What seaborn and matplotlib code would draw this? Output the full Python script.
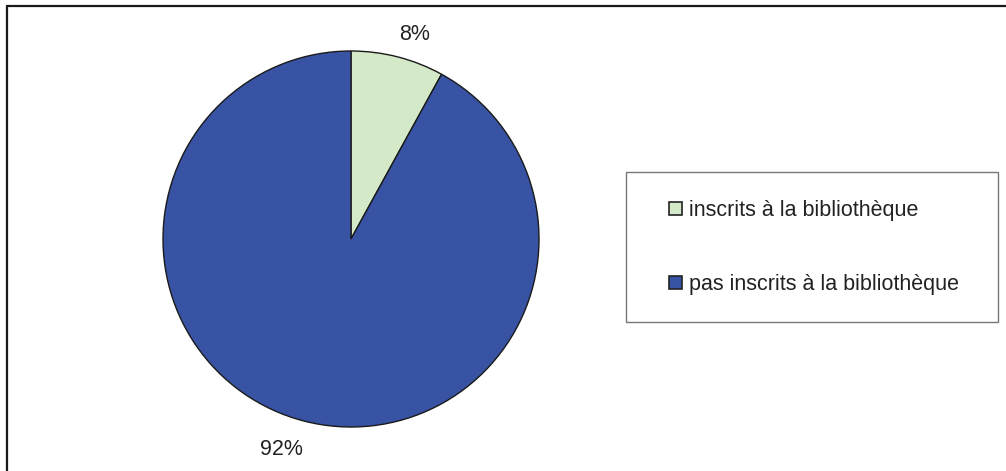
import matplotlib
matplotlib.use("Agg")
import numpy as np
import matplotlib.pyplot as plt
import seaborn as sns
from matplotlib.patches import Rectangle
from matplotlib.legend_handler import HandlerPatch
from matplotlib.lines import Line2D

sns.set_theme(style="white")
plt.rcParams['font.family'] = ['Liberation Sans', 'DejaVu Sans']

categories = ["inscrits à la bibliothèque", "pas inscrits à la bibliothèque"]
values = [8, 92]
colors = ["#D3E9C8", "#3953A4"]

W, H = 1006, 471
FS = 15.5
fig = plt.figure(figsize=(W / 100, H / 100), dpi=100)
fig.patch.set_facecolor("white")

cx, cy, r = 351, 239, 188
ax = fig.add_axes([(cx - r) / W, (H - cy - r) / H, 2 * r / W, 2 * r / H])
ax.axis("off")

wedges, texts, autotexts = ax.pie(
    values, colors=colors, startangle=90, counterclock=False, radius=1,
    autopct=lambda p: f"{p:.0f}%", pctdistance=1.15,
    wedgeprops=dict(edgecolor="#1a1a1a", linewidth=1.0),
    textprops=dict(fontsize=FS, color="#222222"))
ax.set_xlim(-1, 1)
ax.set_ylim(-1, 1)

# place percentage labels outside, aligned like the original
for w, t in zip(wedges, autotexts):
    mid = np.deg2rad((w.theta1 + w.theta2) / 2)
    x, y = np.cos(mid), np.sin(mid)
    t.set_position((x * 1.02, y * 1.14 - 0.016))
    t.set_ha("left" if x > 0 else "right")
    t.set_va("center")


class OffsetSquare(HandlerPatch):
    def create_artists(self, legend, orig_handle, xdescent, ydescent,
                       width, height, fontsize, trans):
        s = 13 * 72 / 100
        p = Rectangle((width - s - xdescent, -ydescent + (height - s) / 2 - 0.5),
                      s, s, facecolor=orig_handle.get_facecolor(),
                      edgecolor="#222222", linewidth=1.2, transform=trans)
        return [p]


leg = fig.legend(
    wedges, categories, loc="upper left",
    bbox_to_anchor=(626 / W, 1 - 322 / H, 372 / W, 150 / H),
    mode="expand", fontsize=FS, frameon=True, fancybox=False,
    borderpad=1.28, labelspacing=2.46, handlelength=1.31, handleheight=0.7,
    handletextpad=0.35, borderaxespad=0,
    handler_map={w: OffsetSquare() for w in wedges})
fr = leg.get_frame()
fr.set_edgecolor("#555555")
fr.set_linewidth(1.0)
for t in leg.get_texts():
    t.set_color("#222222")

# chart area border (left and top visible)
fig.add_artist(Line2D([6.5 / W, 6.5 / W], [0, 1 - 5.5 / H], transform=fig.transFigure,
                      color="#1a1a1a", linewidth=1.6))
fig.add_artist(Line2D([6.5 / W, 1], [1 - 5.5 / H, 1 - 5.5 / H], transform=fig.transFigure,
                      color="#1a1a1a", linewidth=1.6))

fig.savefig("out.png", dpi=100, facecolor="white")
